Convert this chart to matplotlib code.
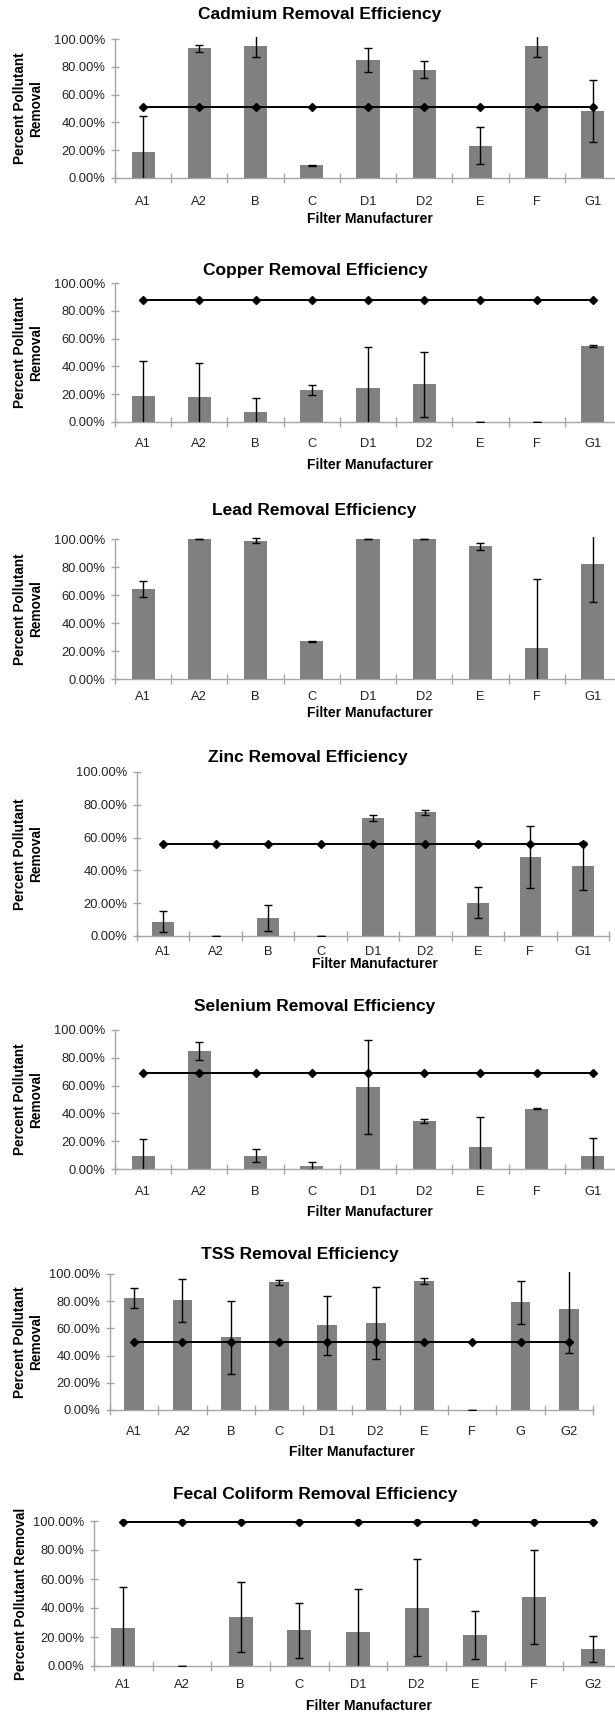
import matplotlib
matplotlib.use('Agg')
import matplotlib.pyplot as plt
from matplotlib.ticker import FixedLocator, FuncFormatter
import numpy as np

plt.rcParams['font.family'] = ['Liberation Sans', 'DejaVu Sans']

# Filter manufacturers on each chart
cats_metal = ['A1', 'A2', 'B', 'C', 'D1', 'D2', 'E', 'F', 'G1']
cats_tss = ['A1', 'A2', 'B', 'C', 'D1', 'D2', 'E', 'F', 'G', 'G2']
cats_fecal = ['A1', 'A2', 'B', 'C', 'D1', 'D2', 'E', 'F', 'G2']

# Mean percent removal and error (percent)
cadmium_mean = [18.7, 93.3, 95.2, 9.1, 85.0, 77.8, 23.2, 95.2, 48.2]
cadmium_err = [25.6, 2.5, 8.0, 0.5, 8.5, 6.2, 13.3, 8.0, 22.5]
cadmium_target = 51.2

copper_mean = [18.8, 17.8, 7.2, 23.1, 24.8, 27.0, 0.3, 0.3, 54.7]
copper_err = [25.0, 25.0, 10.4, 3.5, 28.9, 23.5, 0.0, 0.0, 1.0]
copper_target = 88.0

lead_mean = [64.1, 100.0, 98.6, 26.8, 100.0, 100.0, 94.7, 21.8, 82.1]
lead_err = [5.7, 0.2, 1.8, 0.5, 0.2, 0.2, 2.2, 49.7, 26.8]

zinc_mean = [8.7, 0.3, 11.2, 0.3, 72.2, 75.4, 20.3, 48.0, 42.7]
zinc_err = [6.3, 0.0, 8.0, 0.0, 1.8, 1.5, 9.6, 18.8, 14.5]
zinc_target = 55.9

selenium_mean = [9.6, 85.1, 9.6, 2.2, 59.2, 34.5, 15.6, 43.4, 9.6]
selenium_err = [12.0, 6.5, 4.9, 2.8, 33.9, 1.7, 22.0, 0.5, 12.9]
selenium_target = 69.3

tss_mean = [82.1, 80.6, 53.4, 93.9, 62.4, 63.9, 94.8, 0.3, 79.1, 74.4]
tss_err = [7.3, 16.0, 26.7, 2.0, 21.6, 26.2, 2.5, 0.0, 16.0, 32.6]
tss_target = 49.9

fecal_mean = [26.2, 0.3, 33.8, 24.6, 23.4, 40.2, 21.4, 47.8, 11.7]
fecal_err = [28.1, 0.0, 24.4, 18.8, 29.9, 33.5, 16.8, 32.3, 8.7]
fecal_target = 99.6

panels = [
    ('Cadmium Removal Efficiency', cats_metal, cadmium_mean, cadmium_err, cadmium_target),
    ('Copper Removal Efficiency', cats_metal, copper_mean, copper_err, copper_target),
    ('Lead Removal Efficiency', cats_metal, lead_mean, lead_err, None),
    ('Zinc Removal Efficiency', cats_metal, zinc_mean, zinc_err, zinc_target),
    ('Selenium Removal Efficiency', cats_metal, selenium_mean, selenium_err, selenium_target),
    ('TSS Removal Efficiency', cats_tss, tss_mean, tss_err, tss_target),
    ('Fecal Coliform Removal Efficiency', cats_fecal, fecal_mean, fecal_err, fecal_target),
]

# pixel layout: left, right, y of 100%, y of 0%, title (x, y), xlabel (x, y),
# ylabel x, two-line ylabel, category label pad (pt)
layout = [
    (115, 621, 39, 178, (320, 14), (370, 219), 28, True, 12.7),
    (115, 621, 283, 422, (315, 270), (370, 465), 28, True, 11.2),
    (115, 621, 539, 679, (314, 511), (370, 713), 28, True, 8.7),
    (137, 609, 772, 936, (308, 757), (375, 964), 28, True, 7.4),
    (115, 621, 1030, 1169, (315, 1007), (370, 1212), 28, True, 11.9),
    (110, 593, 1274, 1410, (300, 1254), (352, 1452), 28, True, 11.2),
    (94, 622, 1521, 1666, (315, 1495), (369, 1706), 21, False, 9.4),
]

W, H = 615, 1712
fig = plt.figure(figsize=(W / 100, H / 100), dpi=100)

axis_gray = '#a6a6a6'
bar_gray = '#808080'
top_lim = 101.5

for (title, cats, mean, err, target), (left, right, y100, y0, tpos, xlpos, ylx, two_line, cpad) in zip(panels, layout):
    px_per = (y0 - y100) / 100.0
    top_px = y0 - top_lim * px_per
    ax = fig.add_axes([left / W, 1 - y0 / H, (right - left) / W, (y0 - top_px) / H])
    x = np.arange(len(cats))

    ax.bar(x, mean, width=0.41, color=bar_gray, zorder=2)
    ax.errorbar(x, mean, yerr=err, fmt='none', ecolor='black', elinewidth=1.0,
                capsize=3, capthick=1.0, zorder=4)
    if target is not None:
        ax.plot(x, np.full(len(cats), target), color='black', lw=1.4,
                marker='D', markersize=4, zorder=3)

    ax.set_xlim(-0.5, len(cats) - 0.5)
    ax.set_ylim(0, top_lim)
    for s in ['top', 'right']:
        ax.spines[s].set_visible(False)
    for s in ['left', 'bottom']:
        ax.spines[s].set_color(axis_gray)
        ax.spines[s].set_linewidth(1.0)
    ax.spines['left'].set_bounds(0, 100)

    ax.yaxis.set_major_locator(FixedLocator([0, 20, 40, 60, 80, 100]))
    ax.yaxis.set_major_formatter(FuncFormatter(lambda v, p: '%.2f%%' % v))
    ax.tick_params(axis='y', direction='inout', length=6, width=1.0, color=axis_gray,
                   labelsize=9.3, pad=4, labelcolor='#222222')

    ax.xaxis.set_major_locator(FixedLocator(np.arange(len(cats) + 1) - 0.5))
    ax.xaxis.set_major_formatter(FuncFormatter(lambda v, p: ''))
    ax.xaxis.set_minor_locator(FixedLocator(x))
    ax.set_xticklabels(cats, minor=True)
    ax.tick_params(axis='x', which='major', direction='inout', length=7, width=1.0, color=axis_gray)
    ax.tick_params(axis='x', which='minor', length=0, labelsize=9.3, pad=cpad, labelcolor='#222222')

    fig.text(tpos[0] / W, 1 - tpos[1] / H, title, ha='center', va='center',
             fontsize=12.5, fontweight='bold')
    fig.text(xlpos[0] / W, 1 - xlpos[1] / H, 'Filter Manufacturer', ha='center', va='center',
             fontsize=10, fontweight='bold')
    ylab = 'Percent Pollutant\nRemoval' if two_line else 'Percent Pollutant Removal'
    fig.text(ylx / W, 1 - (y0 + y100) / 2 / H, ylab, ha='center', va='center',
             rotation=90, fontsize=9.8, fontweight='bold', linespacing=1.25)

fig.savefig('out.png', dpi=100)
